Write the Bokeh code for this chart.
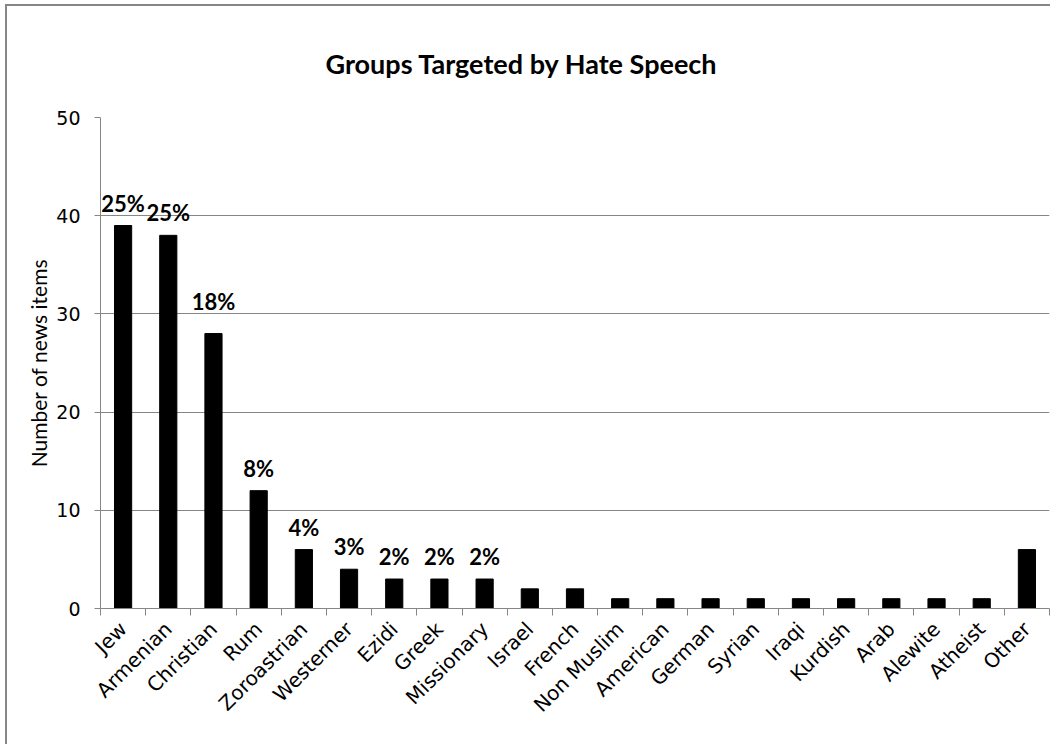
import math
from bokeh.plotting import figure
from bokeh.models import ColumnDataSource, FixedTicker, LabelSet, Range1d, Title
from bokeh.core.properties import value
from bokeh.embed import file_html
from bokeh.resources import INLINE

groups = ["Jew", "Armenian", "Christian", "Rum", "Zoroastrian", "Westerner", "Ezidi",
          "Greek", "Missionary", "Israel", "French", "Non Muslim", "American", "German",
          "Syrian", "Iraqi", "Kurdish", "Arab", "Alewite", "Atheist", "Other"]
counts = [39, 38, 28, 12, 6, 4, 3, 3, 3, 2, 2, 1, 1, 1, 1, 1, 1, 1, 1, 1, 6]
pct_labels = ["25%", "25%", "18%", "8%", "4%", "3%", "2%", "2%", "2%"]
y_ticks = [0, 10, 20, 30, 40, 50]

CAL = "Lato"
VER = "DejaVu Sans"
GRID = "#868686"

centers = [i + 0.5 for i in range(len(groups))]

p = figure(width=1045, height=740, output_backend="svg", toolbar_location=None,
           x_range=Range1d(0, len(groups)), y_range=Range1d(0, 50),
           min_border_left=93, min_border_right=3, min_border_top=111, min_border_bottom=138)
p.title = Title(text="Groups Targeted by Hate Speech", align="left", offset=225,
                text_font=CAL, text_font_size="27px", text_font_style="bold",
                text_color="#000000", standoff=76)
p.outline_line_color = None
p.background_fill_color = "white"
p.border_fill_color = "white"
# chart-area border: left and top edges
p.styles = {"margin-left": "7px", "margin-top": "6px", "overflow": "hidden",
            "box-shadow": "-2px -2px 0 0 #868686"}

p.vbar(x=centers, top=counts, width=0.38, bottom=0, fill_color="black", line_color="black")

lift = [9, 9, 19, 9, 9, 9, 9, 9, 9]
src = ColumnDataSource(dict(x=centers[:len(pct_labels)], y=counts[:len(pct_labels)],
                            t=pct_labels, off=lift))
p.add_layout(LabelSet(x="x", y="y", text="t", source=src, y_offset="off",
                      text_align="center", text_baseline="bottom",
                      text_font=value(CAL), text_font_size="22px", text_font_style="bold",
                      text_color="black"))

# x axis
xa = p.xaxis[0]
xa.ticker = FixedTicker(ticks=centers, minor_ticks=list(range(len(groups) + 1)))
xa.major_label_overrides = {c: g for c, g in zip(centers, groups)}
xa.major_tick_line_color = None
xa.major_tick_out = 0
xa.major_tick_in = 0
xa.minor_tick_line_color = GRID
xa.minor_tick_out = 7
xa.minor_tick_in = 0
xa.axis_line_color = GRID
xa.major_label_orientation = math.pi / 4
xa.major_label_text_font = VER
xa.major_label_text_font_size = "20px"
xa.major_label_text_color = "#000000"
xa.major_label_standoff = 10

# y axis
ya = p.yaxis[0]
ya.ticker = FixedTicker(ticks=y_ticks, minor_ticks=[])
ya.axis_line_color = GRID
ya.major_tick_line_color = GRID
ya.major_tick_out = 6
ya.major_tick_in = 0
ya.minor_tick_line_color = None
ya.major_label_text_font = VER
ya.major_label_text_font_size = "19px"
ya.major_label_text_color = "#000000"
ya.major_label_standoff = 14
ya.axis_label = "Number of news items"
ya.axis_label_text_font = CAL
ya.axis_label_text_font_size = "21px"
ya.axis_label_text_font_style = "normal"
ya.axis_label_text_color = "#000000"
ya.axis_label_standoff = 2

p.xgrid.grid_line_color = None
p.ygrid.ticker = FixedTicker(ticks=y_ticks[1:])
p.ygrid.grid_line_color = GRID
p.ygrid.grid_line_width = 1

open("out.html", "w").write(file_html(p, INLINE))
